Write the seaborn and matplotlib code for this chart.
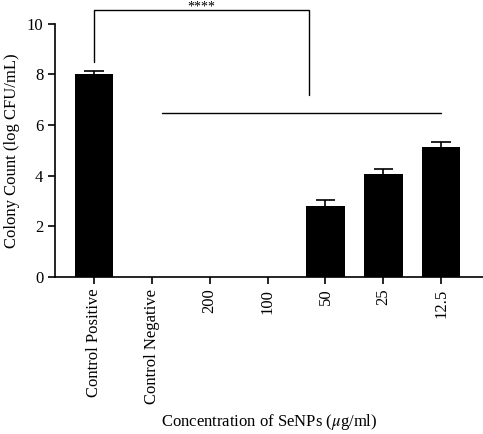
import pandas as pd
import matplotlib
matplotlib.use('Agg')
import matplotlib.pyplot as plt
import seaborn as sns

# dados
groups = ['Control Positive', 'Control Negative', '200', '100', '50', '25', '12.5']
colony = [8.02, 0, 0, 0, 2.80, 4.08, 5.12]
err_up = [0.10, 0, 0, 0, 0.24, 0.20, 0.23]

df = pd.DataFrame({'group': groups, 'count': colony})

sns.set_style('ticks')
plt.rcParams['font.family'] = ['Liberation Serif', 'DejaVu Serif']
plt.rcParams['mathtext.fontset'] = 'stix'
plt.rcParams['text.color'] = 'black'
plt.rcParams['axes.labelcolor'] = 'black'
plt.rcParams['xtick.color'] = 'black'
plt.rcParams['ytick.color'] = 'black'
plt.rcParams['axes.edgecolor'] = 'black'

fig = plt.figure(figsize=(4.83, 4.34), dpi=100)
ax = fig.add_axes([0.114, 0.362, 0.886, 0.583])

sns.barplot(data=df, x='group', y='count', color='black', errorbar=None,
            width=0.66, saturation=1, linewidth=0, ax=ax)

# barras de erro (só para cima)
for i, (v, e) in enumerate(zip(colony, err_up)):
    if e > 0:
        ax.vlines(i, v, v + e, color='black', lw=1.2)
        ax.hlines(v + e, i - 0.17, i + 0.17, color='black', lw=1.2)

ax.set_ylim(0, 10)
ax.set_xlim(-0.67, 6.72)
ax.set_yticks([0, 2, 4, 6, 8, 10])
ax.tick_params(axis='x', labelrotation=90, labelsize=12, length=5, width=1.2)
ax.tick_params(axis='y', labelsize=12, length=5, width=1.2)
for s in ['left', 'bottom']:
    ax.spines[s].set_linewidth(1.2)
sns.despine(ax=ax)

ax.set_xlabel(r'Concentration of SeNPs ($\mu$g/ml)', fontsize=12, labelpad=6)
ax.set_ylabel('Colony Count (log CFU/mL)', fontsize=12, labelpad=5)

# linhas de significância
ax.plot([0, 0, 3.72, 3.72], [8.5, 10.55, 10.55, 7.17], color='black', lw=1.0, clip_on=False)
ax.plot([1.17, 6.0], [6.48, 6.48], color='black', lw=1.0, clip_on=False)
ax.text(1.86, 10.93, '****', ha='center', va='top', fontsize=10, clip_on=False)

fig.savefig('out.png', dpi=100)
